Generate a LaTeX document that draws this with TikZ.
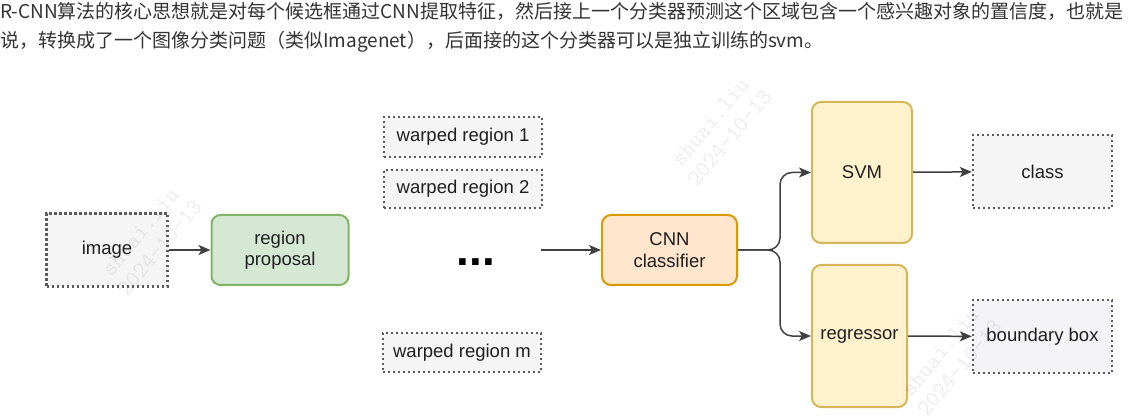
\documentclass[tikz,border=0pt]{standalone}
\usepackage{fontspec}
\setmainfont{Liberation Sans}
\newfontfamily\cjk{Noto Sans CJK SC}
\usetikzlibrary{arrows.meta}
\definecolor{txt}{HTML}{333333}
\definecolor{dotc}{HTML}{5A5A5A}
\definecolor{dotfill}{HTML}{F5F5F5}
\definecolor{bbfill}{HTML}{F4F4F8}
\definecolor{grfill}{HTML}{D5E8D4}
\definecolor{grdraw}{HTML}{82B366}
\definecolor{orfill}{HTML}{FFE6CC}
\definecolor{ordraw}{HTML}{D79B00}
\definecolor{yefill}{HTML}{FFF2CC}
\definecolor{yedraw}{HTML}{D6B656}
\definecolor{arrc}{HTML}{404040}
\tikzset{
  boxtext/.style={font=\fontsize{18.5}{21.5}\selectfont, text=black!88, align=center, inner sep=0pt},
  dotbox/.style={boxtext, draw=dotc, fill=dotfill, line width=2.4pt, dash pattern=on 2.4pt off 2.6pt},
  roundbox/.style={boxtext, line width=2pt, rounded corners=9pt},
  greenbox/.style={roundbox, draw=grdraw, fill=grfill},
  orangebox/.style={roundbox, draw=ordraw, fill=orfill},
  yellowbox/.style={roundbox, draw=yedraw, fill=yefill},
  arr/.style={draw=arrc, line width=1.5pt, -{Stealth[length=12pt,width=10pt,inset=3pt]}},
  header/.style={font=\cjk\fontsize{19}{20}\selectfont, text=txt, inner sep=0pt, anchor=west},
  wm/.style={font=\ttfamily\fontsize{23}{25}\selectfont, text=black, opacity=0.07, align=center, rotate=50, inner sep=0pt}
}
\begin{document}
\begin{tikzpicture}[x=1pt,y=-1pt]
\useasboundingbox (0,0) rectangle (1142,419);
\fill[white] (0,0) rectangle (1142,419);
% header
\node[header] (h1) at (0,11) {R-CNN算法的核心思想就是对每个候选框通过CNN提取特征，然后接上一个分类器预测这个区域包含一个感兴趣对象的置信度，也就是};
\node[header] (h2) at (0,42) {说，转换成了一个图像分类问题（类似Imagenet），后面接的这个分类器可以是独立训练的svm。};
% nodes
\node[dotbox, minimum width=121pt, minimum height=73pt] (img) at (107,250) {image};
\node[greenbox, minimum width=137pt, minimum height=70pt] (rp) at (280,250) {region\\proposal};
\node[dotbox, minimum width=158pt, minimum height=40pt] (wr1) at (463,137) {warped region 1};
\node[dotbox, minimum width=158pt, minimum height=38pt] (wr2) at (463,189) {warped region 2};
\node[dotbox, minimum width=158pt, minimum height=39pt] (wrm) at (462,352.5) {warped region m};
\node[font=\fontsize{46}{46}\selectfont\bfseries, inner sep=0pt, anchor=base] (dots) at (476,266) {...};
\node[orangebox, minimum width=135pt, minimum height=70pt] (cnn) at (669.5,250) {CNN\\classifier};
\node[yellowbox, minimum width=100pt, minimum height=141pt] (svm) at (862,172.5) {SVM};
\node[yellowbox, minimum width=95pt, minimum height=142pt] (reg) at (859.5,336) {regressor};
\node[dotbox, minimum width=139pt, minimum height=73pt] (cls) at (1042.5,171.5) {class};
\node[dotbox, fill=bbfill, minimum width=139pt, minimum height=73pt] (bb) at (1042.5,336.5) {boundary box};
\coordinate (cin) at (541,250);
% connectors
\draw[arr] (img) -- (rp);
\draw[arr] (cin) -- (cnn);
\draw[arr, rounded corners=12pt] (cnn.east) -- ++(42,0) |- (svm.west);
\draw[arr, rounded corners=12pt] (cnn.east) -- ++(42,0) |- (reg.west);
\draw[arr] (svm) -- (cls);
\draw[arr] (reg) -- (bb);
% watermarks (faint, on top)
\node[wm] (wm1) at (150,240) {shuai.liu\\2024-10-13};
\node[wm] (wm2) at (720,130) {shuai.liu\\2024-10-13};
\node[wm] (wm3) at (950,360) {shuai.liu\\2024-10-13};
\end{tikzpicture}
\end{document}
